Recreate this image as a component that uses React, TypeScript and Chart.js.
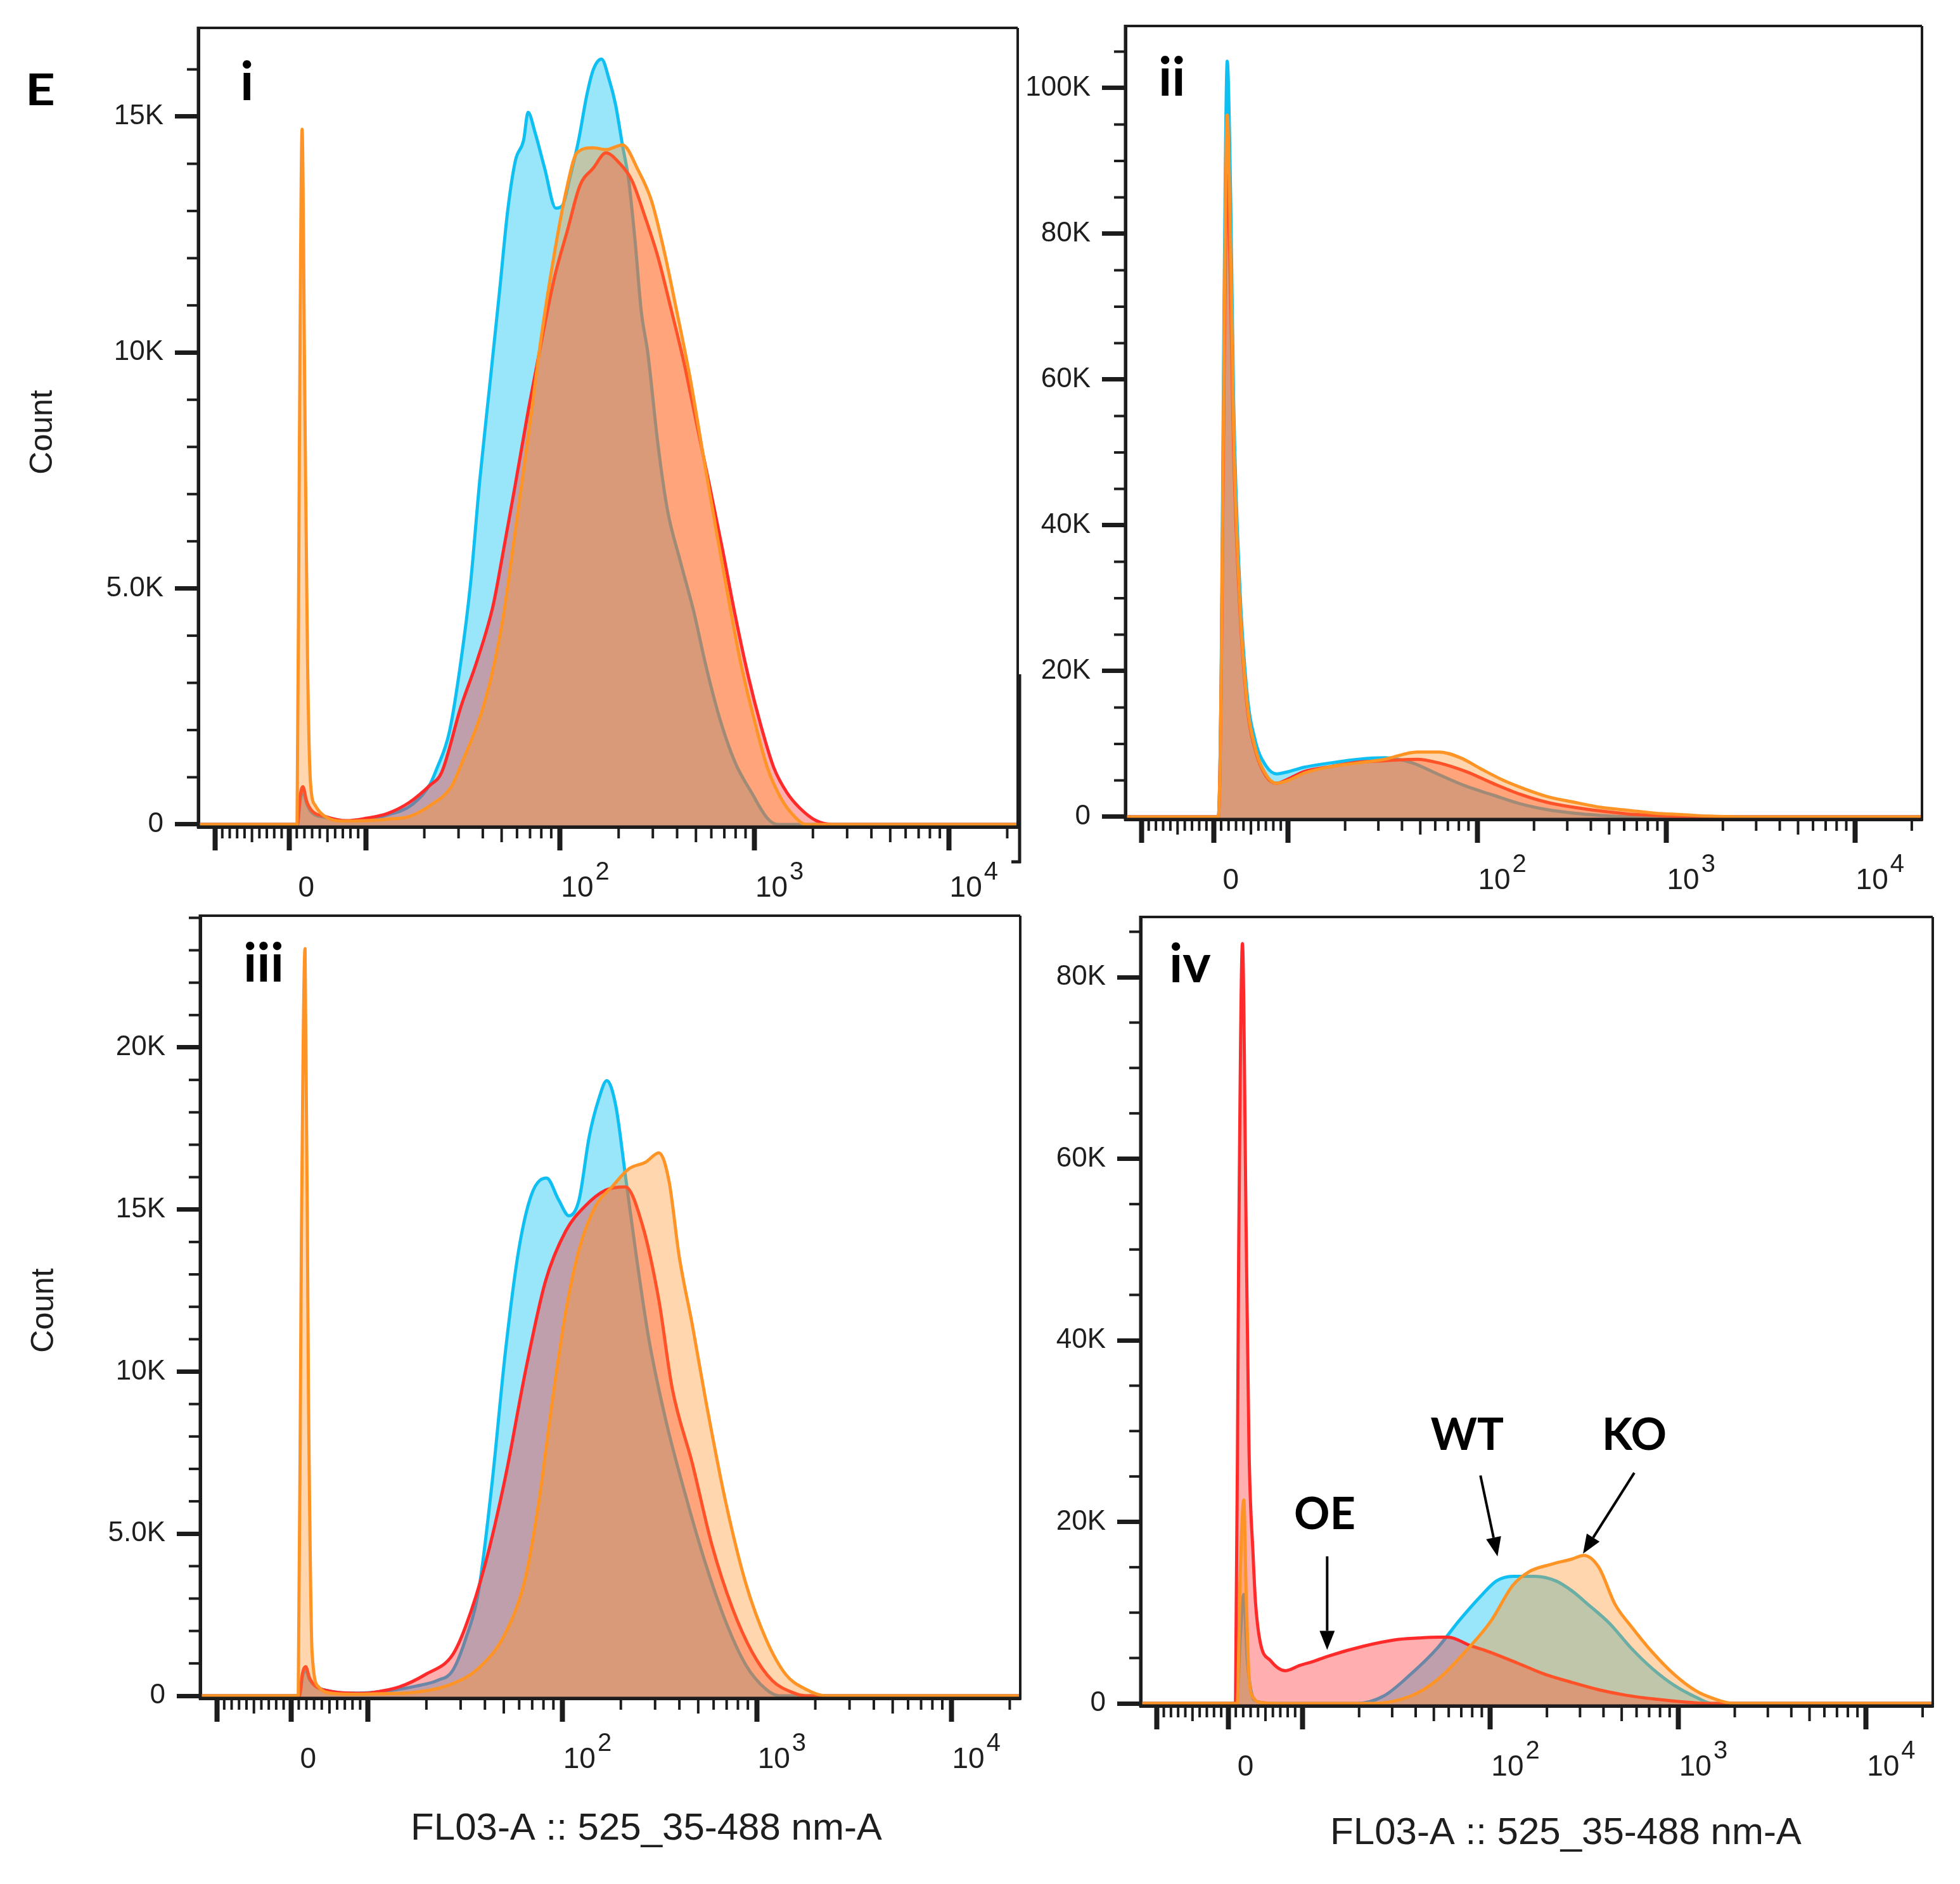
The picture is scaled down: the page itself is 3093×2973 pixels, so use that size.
import React, { useEffect, useRef } from 'react';
import { Chart, registerables } from 'chart.js';

Chart.register(...registerables);

// x axis is in display units: 10^n sits at n, the linear zone around 0 sits below 1
const X_MIN = 0.138;
const X_MAX = 4.355;
const X_MAJOR = [0.223, 0.605, 1, 2, 3, 4];
const X_LABEL_BASE = ['', '0', '', '10', '10', '10'];
const X_LABEL_EXP = ['', '', '', '2', '3', '4'];

// y ticks per panel
const Y_TICKS_I = [0, 5000, 10000, 15000];
const Y_LABELS_I = ['0', '5.0K', '10K', '15K'];
const Y_TICKS_II = [0, 20000, 40000, 60000, 80000, 100000];
const Y_LABELS_II = ['0', '20K', '40K', '60K', '80K', '100K'];
const Y_TICKS_III = [0, 5000, 10000, 15000, 20000];
const Y_LABELS_III = ['0', '5.0K', '10K', '15K', '20K'];
const Y_TICKS_IV = [0, 20000, 40000, 60000, 80000];
const Y_LABELS_IV = ['0', '20K', '40K', '60K', '80K'];

// histograms: [position, count]
const P1_BLUE = [
  [0.138, 0], [0.648, 0], [0.662, 500], [0.676, 700], [0.695, 450], [0.72, 260],
  [0.79, 150], [0.9, 70], [1.0, 100], [1.11, 200], [1.238, 420], [1.33, 850], [1.362, 1150],
  [1.43, 1960], [1.489, 3450], [1.538, 5070], [1.587, 7320], [1.636, 9240], [1.688, 11290],
  [1.73, 13000], [1.77, 14070], [1.812, 14500], [1.835, 15090], [1.871, 14660], [1.92, 13910],
  [1.978, 13060], [2.011, 13110], [2.053, 13750], [2.095, 14500], [2.138, 15470], [2.171, 16000],
  [2.213, 16220], [2.252, 15790], [2.285, 15260], [2.321, 14390], [2.353, 13650], [2.386, 12350],
  [2.418, 10860], [2.451, 10000], [2.503, 8070], [2.552, 6670], [2.617, 5600], [2.686, 4540],
  [2.751, 3350], [2.819, 2280], [2.901, 1310], [2.986, 670], [3.067, 130], [3.119, 0], [4.355, 0],
];
const P1_RED = [
  [0.138, 0], [0.648, 0], [0.662, 600], [0.676, 800], [0.695, 500], [0.72, 300],
  [0.79, 170], [0.9, 80], [1.0, 130], [1.11, 230], [1.225, 470], [1.33, 830], [1.39, 1100],
  [1.489, 2490], [1.571, 3450], [1.655, 4640], [1.704, 5710], [1.77, 7220], [1.838, 8820],
  [1.903, 10220], [1.972, 11610], [2.037, 12580], [2.102, 13540], [2.171, 13910], [2.236, 14230],
  [2.304, 14020], [2.369, 13650], [2.435, 12900], [2.503, 12030], [2.568, 10970], [2.637, 9790],
  [2.702, 8500], [2.767, 7220], [2.836, 5820], [2.901, 4430], [2.969, 3130], [3.035, 2070],
  [3.1, 1200], [3.168, 670], [3.233, 350], [3.318, 80], [3.4, 0], [4.355, 0],
];
const P1_ORANGE = [
  [0.138, 0], [0.646, 0], [0.658, 8000], [0.672, 14730], [0.686, 9000], [0.7, 3500], [0.715, 900],
  [0.74, 400], [0.79, 170], [0.9, 70], [1.0, 80], [1.11, 110], [1.225, 170], [1.33, 400],
  [1.44, 800], [1.489, 1250], [1.62, 2710], [1.704, 4320], [1.77, 6240], [1.838, 8280],
  [1.903, 10330], [1.972, 12140], [2.037, 13540], [2.086, 14230], [2.171, 14340], [2.236, 14300],
  [2.321, 14400], [2.402, 13860], [2.47, 13220], [2.536, 12140], [2.601, 10860], [2.669, 9460],
  [2.735, 7860], [2.803, 6240], [2.868, 4750], [2.933, 3350], [3.002, 2170], [3.067, 1200],
  [3.136, 560], [3.201, 190], [3.266, 0], [4.355, 0],
];

const P2_BLUE = [
  [0.138, 0], [0.63, 0], [0.645, 20000], [0.66, 70000], [0.677, 103700], [0.695, 85000],
  [0.711, 56800], [0.741, 33000], [0.781, 17200], [0.825, 10500], [0.882, 7000], [0.939, 5900],
  [1.0, 6200], [1.084, 6800], [1.225, 7400], [1.37, 7900], [1.511, 8100], [1.656, 7400],
  [1.797, 5800], [1.942, 4200], [2.083, 3000], [2.228, 1800], [2.369, 1000], [2.514, 500],
  [2.655, 200], [2.8, 0], [4.355, 0],
];
const P2_RED = [
  [0.138, 0], [0.63, 0], [0.645, 18000], [0.66, 60000], [0.677, 88000], [0.695, 72000],
  [0.711, 50000], [0.741, 30000], [0.781, 15500], [0.825, 9200], [0.882, 5600], [0.939, 4600],
  [1.0, 5200], [1.084, 6200], [1.225, 6900], [1.37, 7500], [1.511, 7700], [1.683, 7900],
  [1.797, 7400], [1.942, 6200], [2.083, 4600], [2.228, 3100], [2.369, 2000], [2.514, 1300],
  [2.655, 800], [2.8, 400], [2.941, 200], [3.085, 0], [4.355, 0],
];
const P2_ORANGE = [
  [0.138, 0], [0.63, 0], [0.645, 19000], [0.66, 65000], [0.677, 96300], [0.695, 78000],
  [0.711, 53000], [0.741, 31000], [0.781, 16000], [0.825, 9500], [0.882, 5800], [0.939, 4600],
  [1.0, 5000], [1.084, 6000], [1.225, 6900], [1.37, 7400], [1.511, 7900], [1.683, 8900],
  [1.797, 8900], [1.912, 8100], [2.026, 6500], [2.14, 5000], [2.255, 3800], [2.369, 2800],
  [2.514, 2000], [2.655, 1300], [2.8, 900], [2.941, 500], [3.085, 300], [3.227, 100],
  [3.371, 0], [4.355, 0],
];

const P3_BLUE = [
  [0.138, 0], [0.648, 0], [0.664, 600], [0.68, 800], [0.7, 500], [0.73, 300], [0.8, 150],
  [0.95, 80], [1.1, 150], [1.25, 300], [1.36, 480], [1.434, 760], [1.502, 1740], [1.571, 3290],
  [1.639, 6580], [1.708, 10650], [1.776, 13760], [1.844, 15500], [1.919, 15970], [1.981, 15300],
  [2.034, 14810], [2.086, 15300], [2.138, 17240], [2.187, 18400], [2.229, 18980], [2.275, 18200],
  [2.324, 16070], [2.376, 13760], [2.444, 11040], [2.532, 8510], [2.634, 6180], [2.738, 4050],
  [2.839, 2310], [2.943, 960], [3.048, 200], [3.116, 0], [4.355, 0],
];
const P3_RED = [
  [0.138, 0], [0.648, 0], [0.664, 700], [0.68, 900], [0.7, 550], [0.73, 300], [0.8, 150],
  [0.95, 80], [1.02, 100], [1.16, 270], [1.297, 660], [1.434, 1250], [1.502, 2130], [1.603, 4050],
  [1.708, 6770], [1.812, 10060], [1.913, 12780], [2.017, 14330], [2.118, 15110], [2.223, 15600],
  [2.324, 15700], [2.412, 14520], [2.497, 12190], [2.565, 9490], [2.669, 7160], [2.77, 4640],
  [2.875, 2700], [2.976, 1350], [3.08, 470], [3.185, 100], [3.253, 0], [4.355, 0],
];
const P3_ORANGE = [
  [0.138, 0], [0.642, 0], [0.658, 14000], [0.677, 23050], [0.695, 9000], [0.713, 1350],
  [0.747, 270], [0.814, 80], [0.95, 50], [1.1, 70], [1.228, 100], [1.434, 370], [1.571, 860],
  [1.708, 1940], [1.812, 3680], [1.88, 6010], [1.949, 9100], [2.017, 11820], [2.086, 13760],
  [2.171, 15110], [2.255, 15700], [2.343, 16260], [2.428, 16460], [2.497, 16750], [2.549, 15870],
  [2.601, 13560], [2.669, 11430], [2.738, 9100], [2.839, 6010], [2.943, 3480], [3.048, 1740],
  [3.149, 660], [3.253, 200], [3.354, 0], [4.355, 0],
];

// iv: WT = blue, OE = red, KO = orange
const P4_BLUE = [
  [0.138, 0], [0.65, 0], [0.668, 7000], [0.687, 12000], [0.705, 5000], [0.73, 1000], [0.76, 200],
  [0.85, 0], [1.289, 0], [1.431, 800], [1.575, 3200], [1.718, 6100], [1.833, 9100], [1.948, 11800],
  [2.033, 13500], [2.119, 14000], [2.234, 14000], [2.348, 13500], [2.434, 12400], [2.52, 10900],
  [2.635, 8800], [2.749, 6100], [2.864, 3800], [2.978, 2000], [3.093, 700], [3.179, 0], [4.355, 0],
];
const P4_RED = [
  [0.138, 0], [0.643, 0], [0.66, 50000], [0.68, 83700], [0.7, 51700], [0.715, 28000],
  [0.737, 16200], [0.75, 11000], [0.774, 6800], [0.83, 4700], [0.909, 3600], [0.987, 4200],
  [1.054, 4600], [1.135, 5200], [1.324, 6300], [1.492, 7000], [1.617, 7200], [1.72, 7300],
  [1.775, 7300], [1.89, 6400], [2.004, 5600], [2.149, 4400], [2.291, 3200], [2.436, 2300],
  [2.577, 1500], [2.722, 900], [2.864, 500], [3.009, 200], [3.15, 0], [4.355, 0],
];
const P4_ORANGE = [
  [0.138, 0], [0.652, 0], [0.668, 14000], [0.687, 22400], [0.7, 12000], [0.715, 3000],
  [0.74, 600], [0.78, 100], [0.85, 0], [1.374, 0], [1.575, 800], [1.718, 2600], [1.862, 5600],
  [2.004, 9100], [2.119, 13000], [2.205, 14500], [2.32, 15300], [2.434, 15900], [2.497, 16300],
  [2.577, 15000], [2.664, 10900], [2.749, 8500], [2.864, 5600], [2.978, 3200], [3.093, 1400],
  [3.179, 600], [3.294, 0], [4.355, 0],
];

// labels and arrows in panel iv, in data units
const IV_NOTES = [
  { text: 'OE', p: 1.118, c: 20800 },
  { text: 'WT', p: 1.876, c: 29500 },
  { text: 'KO', p: 2.766, c: 29500 },
];
const IV_ARROWS = [
  { from: [1.131, 16200], to: [1.131, 5900] },
  { from: [1.947, 25100], to: [2.038, 16200] },
  { from: [2.766, 25400], to: [2.493, 16500] },
];

const AXIS = '#1c1c1c';
const TEXT = '#1e1e1e';
const SANS = '"Liberation Sans", Arial, sans-serif';
const BOLD = 'Lato, "Open Sans", sans-serif';

const BLUE_LINE = '#10bff2';
const BLUE_FILL = 'rgba(0,190,242,0.40)';
const RED_LINE = '#ff2b2b';
const RED_FILL = 'rgba(255,45,45,0.38)';
const ORANGE_LINE = '#ff9426';
const ORANGE_FILL = 'rgba(255,148,40,0.38)';

const Y_AXIS_W = 200;
const X_AXIS_H = 120;

type Txt = {
  text: string;
  x: number;
  y: number;
  font: string;
  align?: CanvasTextAlign;
  rotate?: boolean;
  stretch?: number;
};

interface Panel {
  canvas: { x: number; y: number; w: number; h: number };
  box: { l: number; t: number; r: number; b: number };
  yMin: number;
  yMax: number;
  yTicks: number[];
  yLabels: string[];
  yMinor: number;
  blue: number[][];
  red: number[][];
  orange: number[][];
  tag: string;
  tagX: number;
  tagY: number;
  texts: Txt[];
  notes?: typeof IV_NOTES;
  arrows?: typeof IV_ARROWS;
  stray?: boolean;
}

const PANELS: Panel[] = [
  {
    canvas: { x: 0, y: 0, w: 1680, h: 1440 },
    box: { l: 313, t: 44, r: 1606, b: 1305 },
    yMin: -54, yMax: 16880, yTicks: Y_TICKS_I, yLabels: Y_LABELS_I, yMinor: 1000,
    blue: P1_BLUE, red: P1_RED, orange: P1_ORANGE,
    tag: 'i', tagX: 379, tagY: 158, stray: true,
    texts: [
      { text: 'E', x: 40, y: 166, font: `bold 68px ${BOLD}`, align: 'left', stretch: 1.2 },
      { text: 'Count', x: 68, y: 682, font: `50px ${SANS}`, rotate: true },
    ],
  },
  {
    canvas: { x: 1560, y: 0, w: 1533, h: 1440 },
    box: { l: 1776, t: 41, r: 3033, b: 1293 },
    yMin: -348, yMax: 108520, yTicks: Y_TICKS_II, yLabels: Y_LABELS_II, yMinor: 5000,
    blue: P2_BLUE, red: P2_RED, orange: P2_ORANGE,
    tag: 'ii', tagX: 1828, tagY: 151,
    texts: [],
  },
  {
    canvas: { x: 0, y: 1380, w: 1680, h: 1593 },
    box: { l: 316, t: 1445, r: 1610, b: 2680 },
    yMin: -78, yMax: 24066, yTicks: Y_TICKS_III, yLabels: Y_LABELS_III, yMinor: 1000,
    blue: P3_BLUE, red: P3_RED, orange: P3_ORANGE,
    tag: 'iii', tagX: 384, tagY: 1549,
    texts: [
      { text: 'Count', x: 70, y: 2068, font: `50px ${SANS}`, rotate: true },
      { text: 'FL03-A :: 525_35-488 nm-A', x: 1020, y: 2903, font: `60px ${SANS}`, align: 'center' },
    ],
  },
  {
    canvas: { x: 1560, y: 1380, w: 1533, h: 1593 },
    box: { l: 1800, t: 1447, r: 3050, b: 2692 },
    yMin: -279, yMax: 86632, yTicks: Y_TICKS_IV, yLabels: Y_LABELS_IV, yMinor: 5000,
    blue: P4_BLUE, red: P4_RED, orange: P4_ORANGE,
    tag: 'iv', tagX: 1845, tagY: 1550,
    texts: [
      { text: 'FL03-A :: 525_35-488 nm-A', x: 2471, y: 2910, font: `60px ${SANS}`, align: 'center' },
    ],
    notes: IV_NOTES,
    arrows: IV_ARROWS,
  },
];

// minor tick positions on the display axis: [position, length]
const X_MINOR: number[][] = [];
for (let k = 1; k < 10; k++) {
  X_MINOR.push([0.223 + (k * (0.605 - 0.223)) / 10, k === 5 ? 24 : 18]);
  X_MINOR.push([0.605 + (k * (1 - 0.605)) / 10, k === 5 ? 24 : 18]);
}
for (let d = 1; d <= 3; d++) {
  for (let k = 2; k <= 9; k++) X_MINOR.push([d + Math.log10(k), k === 5 ? 24 : 18]);
}
X_MINOR.push([4 + Math.log10(2), 18]);

function line(ctx: CanvasRenderingContext2D, x1: number, y1: number, x2: number, y2: number) {
  ctx.beginPath();
  ctx.moveTo(x1, y1);
  ctx.lineTo(x2, y2);
  ctx.stroke();
}

function makeDecor(panel: Panel) {
  return {
    id: 'flowDecor',
    afterDraw(chart: any) {
      const { ctx, chartArea: a } = chart;
      const xs = chart.scales.x;
      const ys = chart.scales.y;
      const ox = panel.canvas.x;
      const oy = panel.canvas.y;
      ctx.save();
      ctx.strokeStyle = AXIS;
      ctx.fillStyle = TEXT;

      // frame
      ctx.lineWidth = 4;
      line(ctx, a.left, a.top, a.right, a.top);
      line(ctx, a.right, a.top, a.right, a.bottom);
      ctx.lineWidth = 5;
      line(ctx, a.left - 2, a.bottom, a.right + 2, a.bottom);
      line(ctx, a.left, a.top - 2, a.left, a.bottom + 2);

      if (panel.stray) {
        ctx.lineWidth = 5;
        line(ctx, a.right + 3, 1064 - oy, a.right + 3, 1362 - oy);
        line(ctx, a.right - 10, 1360 - oy, a.right + 5, 1360 - oy);
      }

      // minor ticks
      ctx.lineWidth = 4;
      for (const [p, len] of X_MINOR) {
        const px = xs.getPixelForValue(p);
        line(ctx, px, a.bottom, px, a.bottom + len);
      }
      const majorStep = panel.yTicks[1];
      for (let v = panel.yMinor; v < panel.yMax; v += panel.yMinor) {
        if (v % majorStep === 0) continue;
        const py = ys.getPixelForValue(v);
        line(ctx, a.left - 18, py, a.left, py);
      }

      // x labels with raised exponents
      ctx.textBaseline = 'alphabetic';
      X_MAJOR.forEach((p, i) => {
        const base = X_LABEL_BASE[i];
        if (!base) return;
        const cx = xs.getPixelForValue(p) + 27;
        const by = a.bottom + 110;
        ctx.font = `46px ${SANS}`;
        ctx.textAlign = 'center';
        ctx.fillText(base, cx, by);
        const exp = X_LABEL_EXP[i];
        if (exp) {
          const w = ctx.measureText(base).width;
          ctx.font = `40px ${SANS}`;
          ctx.textAlign = 'left';
          ctx.fillText(exp, cx + w / 2 + 3, by - 27);
        }
      });

      // panel tag
      ctx.fillStyle = '#000';
      ctx.font = `bold 84px ${BOLD}`;
      ctx.textAlign = 'left';
      ctx.fillText(panel.tag, panel.tagX - ox, panel.tagY - oy);

      // free text
      for (const t of panel.texts) {
        ctx.font = t.font;
        ctx.fillStyle = t.font.startsWith('bold') ? '#000' : TEXT;
        ctx.save();
        ctx.translate(t.x - ox, t.y - oy);
        if (t.rotate) {
          ctx.rotate(-Math.PI / 2);
          ctx.textAlign = 'center';
          ctx.textBaseline = 'middle';
        } else {
          ctx.textAlign = t.align || 'left';
          ctx.textBaseline = 'alphabetic';
        }
        if (t.stretch) ctx.scale(t.stretch, 1);
        ctx.fillText(t.text, 0, 0);
        ctx.restore();
      }

      // annotations
      if (panel.notes) {
        ctx.fillStyle = '#000';
        ctx.font = `bold 70px ${BOLD}`;
        ctx.textAlign = 'center';
        ctx.textBaseline = 'middle';
        for (const n of panel.notes) {
          ctx.fillText(n.text, xs.getPixelForValue(n.p), ys.getPixelForValue(n.c));
        }
      }
      if (panel.arrows) {
        ctx.strokeStyle = '#000';
        ctx.fillStyle = '#000';
        ctx.lineWidth = 4;
        for (const ar of panel.arrows) {
          const x1 = xs.getPixelForValue(ar.from[0]);
          const y1 = ys.getPixelForValue(ar.from[1]);
          const x2 = xs.getPixelForValue(ar.to[0]);
          const y2 = ys.getPixelForValue(ar.to[1]);
          const ang = Math.atan2(y2 - y1, x2 - x1);
          const head = 30;
          const half = 12;
          const bx = x2 - head * Math.cos(ang);
          const by = y2 - head * Math.sin(ang);
          line(ctx, x1, y1, bx, by);
          ctx.beginPath();
          ctx.moveTo(x2, y2);
          ctx.lineTo(bx + half * Math.sin(ang), by - half * Math.cos(ang));
          ctx.lineTo(bx - half * Math.sin(ang), by + half * Math.cos(ang));
          ctx.closePath();
          ctx.fill();
        }
      }
      ctx.restore();
    },
  };
}

function buildConfig(panel: Panel): any {
  const { canvas: c, box } = panel;
  const series = [
    { data: panel.orange, line: ORANGE_LINE, fill: ORANGE_FILL, order: 1 },
    { data: panel.red, line: RED_LINE, fill: RED_FILL, order: 2 },
    { data: panel.blue, line: BLUE_LINE, fill: BLUE_FILL, order: 3 },
  ];
  return {
    type: 'line',
    data: {
      datasets: series.map((s) => ({
        data: s.data.map(([x, y]) => ({ x, y })),
        borderColor: s.line,
        backgroundColor: s.fill,
        borderWidth: 5,
        borderJoinStyle: 'round',
        pointRadius: 0,
        fill: 'start',
        cubicInterpolationMode: 'monotone',
        order: s.order,
      })),
    },
    options: {
      responsive: false,
      animation: false,
      devicePixelRatio: 1,
      events: [],
      layout: {
        padding: {
          left: box.l - c.x - Y_AXIS_W,
          top: box.t - c.y,
          right: c.x + c.w - box.r,
          bottom: c.y + c.h - box.b - X_AXIS_H,
        },
      },
      plugins: { legend: { display: false }, tooltip: { enabled: false } },
      scales: {
        x: {
          type: 'linear',
          min: X_MIN,
          max: X_MAX,
          afterBuildTicks: (s: any) => {
            s.ticks = X_MAJOR.map((v) => ({ value: v }));
          },
          afterFit: (s: any) => {
            s.height = X_AXIS_H;
            s.paddingLeft = 0;
            s.paddingRight = 0;
          },
          ticks: { display: false },
          grid: { drawOnChartArea: false, tickLength: 37, tickWidth: 8, tickColor: AXIS },
          border: { display: true, color: AXIS, width: 5 },
        },
        y: {
          type: 'linear',
          min: panel.yMin,
          max: panel.yMax,
          afterBuildTicks: (s: any) => {
            s.ticks = panel.yTicks.map((v) => ({ value: v }));
          },
          afterFit: (s: any) => {
            s.width = Y_AXIS_W;
            s.paddingTop = 0;
            s.paddingBottom = 0;
          },
          ticks: {
            callback: (_v: any, i: number) => panel.yLabels[i],
            font: { family: SANS, size: 44 },
            color: TEXT,
            padding: 18,
          },
          grid: { drawOnChartArea: false, tickLength: 37, tickWidth: 7, tickColor: AXIS },
          border: { display: true, color: AXIS, width: 5 },
        },
      },
    },
    plugins: [makeDecor(panel)],
  };
}

const FlowPanel: React.FC<{ panel: Panel }> = ({ panel }) => {
  const chartRef = useRef<HTMLCanvasElement>(null);

  useEffect(() => {
    if (!chartRef.current) return;
    const chart = new Chart(chartRef.current, buildConfig(panel));
    return () => {
      chart.destroy();
    };
  }, [panel]);

  const { x, y, w, h } = panel.canvas;
  return (
    <canvas
      ref={chartRef}
      width={w}
      height={h}
      style={{ position: 'absolute', left: x, top: y, width: w, height: h }}
    />
  );
};

const App: React.FC = () => (
  <div
    style={{
      position: 'absolute',
      left: 0,
      top: 0,
      width: 3093,
      height: 2973,
      overflow: 'hidden',
      background: '#fff',
    }}
  >
    {PANELS.map((p) => (
      <FlowPanel key={p.tag} panel={p} />
    ))}
  </div>
);

export default App;
